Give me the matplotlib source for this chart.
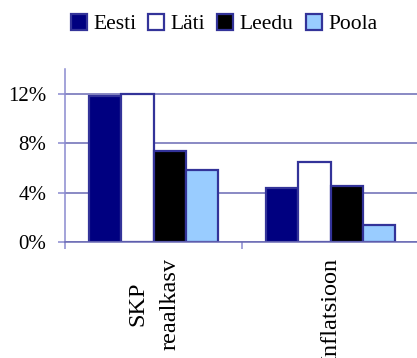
import matplotlib
matplotlib.use("Agg")
import matplotlib.pyplot as plt
from matplotlib.patches import Patch
from matplotlib.ticker import FuncFormatter
import numpy as np

categories = ["SKP\nreaalkasv", "Inflatsioon"]
series_names = ["Eesti", "Läti", "Leedu", "Poola"]
eesti = [11.8, 4.4]
lati = [12.0, 6.5]
leedu = [7.4, 4.5]
poola = [5.8, 1.4]
yticks = [0, 4, 8, 12]

series_values = [eesti, lati, leedu, poola]
colors = ["#000080", "#ffffff", "#000000", "#99ccff"]
edge = "#333399"
grid_c = "#6a6ab4"
spine_c = "#8a8ad0"

plt.rcParams["font.family"] = ["Liberation Serif", "DejaVu Serif"]
plt.rcParams["font.size"] = 14.5

fig = plt.figure(figsize=(4.17, 3.58), dpi=100)
ax = fig.add_axes([65/417, 1-242/358, (419-65)/417, (242-69)/358])

x = np.arange(len(categories))
w = 0.182
n = len(series_names)
for i, (name, vals, col) in enumerate(zip(series_names, series_values, colors)):
    ax.bar(x + (i - (n-1)/2) * w, vals, width=w, color=col, edgecolor=edge,
           linewidth=1.6, zorder=3, label=name)

ax.set_xlim(-0.5, 1.5)
ax.set_ylim(0, 14)
ax.set_yticks(yticks)
ax.yaxis.set_major_formatter(FuncFormatter(lambda v, p: f"{int(v)}%"))
ax.yaxis.grid(True, color=grid_c, linewidth=1.1, zorder=0)
ax.set_axisbelow(True)

for s in ["top", "right"]:
    ax.spines[s].set_visible(False)
ax.spines["left"].set_color(spine_c)
ax.spines["left"].set_linewidth(1.1)
ax.spines["bottom"].set_color(grid_c)
ax.spines["bottom"].set_linewidth(1.1)
ax.spines["bottom"].set_zorder(4)

ax.tick_params(axis="y", direction="out", length=5, width=1.1, color=spine_c,
               pad=8.5, labelsize=15)
ax.set_xticks(x)
ax.set_xticklabels(categories, rotation=90, ha="center", va="top", fontsize=17.5)
ax.tick_params(axis="x", which="major", length=0, pad=11.5)
ax.set_xticks([-0.5, 0.5, 1.5], minor=True)
ax.tick_params(axis="x", which="minor", direction="out", length=5, width=1.1, color=spine_c)
for lbl in ax.get_xticklabels():
    lbl.set_linespacing(1.7)

handles = [Patch(facecolor=c, edgecolor=edge, linewidth=1.6) for c in colors]
fig.legend(handles, series_names, loc="center", bbox_to_anchor=(0.537, 0.933),
           ncol=4, frameon=False, handlelength=0.75, handleheight=0.75,
           handletextpad=0.3, columnspacing=0.55, borderaxespad=0,
           prop={"size": 15.5})

fig.savefig("out.png", dpi=100)
